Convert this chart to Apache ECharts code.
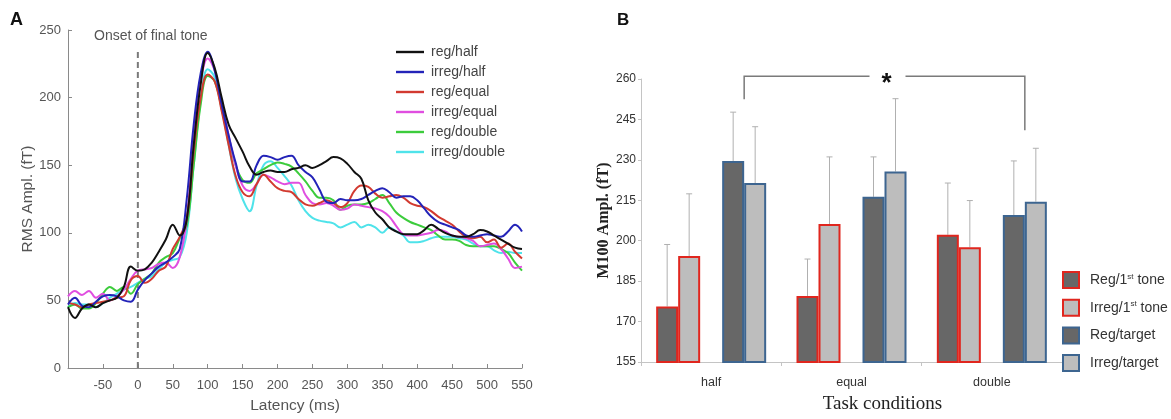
<!DOCTYPE html>
<html>
<head>
<meta charset="utf-8">
<script src="https://cdn.jsdelivr.net/npm/echarts@6/dist/echarts.min.js"></script>
<style>html,body{margin:0;padding:0;background:#fff;}#c{width:1171px;height:419px;}</style>
</head>
<body>
<div id="c"></div>
<script>
// ---------- Panel A data ----------
const latency = [-100,-90,-80,-70,-60,-50,-40,-30,-20,-10,0,10,20,30,40,50,60,70,80,90,100,110,120,130,140,150,160,170,180,190,200,210,220,230,240,250,260,270,280,290,300,310,320,330,340,350,360,370,380,390,400,410,420,430,440,450,460,470,480,490,500,510,520,530,540,550];
const regHalf = [45,37,44,47,45,48,50,52,60,75,72,73,78,86,95,106,98,110,165,210,233,222,200,180,170,160,149,143,145,146,145,145,147,148,150,148,150,153,156,155,151,145,140,124,115,110,104,101,99,99,99,102,106,103,100,98,97,97,99,102,101,98,95,92,89,88];
const irregHalf = [47,52,46,45,49,53,54,53,50,49,58,65,70,75,78,82,88,125,180,218,234,220,195,172,152,138,138,150,157,156,154,156,157,150,145,141,132,123,122,125,124,124,125,128,131,133,130,126,127,127,124,118,112,108,106,104,102,98,97,98,99,98,97,101,106,101];
const regEqual = [48,47,45,47,48,49,50,52,53,65,68,63,66,72,75,88,97,110,160,200,217,212,190,165,142,130,127,136,143,138,133,131,130,125,121,120,122,124,122,119,122,131,135,134,129,126,127,128,126,122,120,119,116,112,109,106,101,97,96,97,93,95,89,92,86,81];
const irregEqual = [53,57,54,57,52,55,50,53,58,66,72,73,74,77,78,74,82,110,170,212,229,220,197,172,150,135,131,136,143,141,138,136,137,137,128,122,121,122,120,117,118,121,120,119,118,116,112,105,99,98,98,99,100,102,101,98,97,96,94,90,91,92,88,81,74,75];
const regDouble = [45,47,44,44,48,55,60,57,60,55,62,66,70,78,82,85,96,105,150,195,216,212,192,170,150,139,137,144,147,150,152,151,149,144,138,131,126,126,124,117,120,121,121,122,125,128,122,115,111,108,106,104,102,98,95,95,94,91,90,90,90,90,88,85,78,72];
const irregDouble = [45,48,47,47,45,48,52,55,58,60,63,66,68,73,78,80,82,100,150,198,221,215,192,165,140,125,116,135,150,153,148,142,135,124,116,111,109,108,107,104,106,108,104,106,104,100,104,101,98,93,93,94,96,97,97,97,96,95,92,90,90,87,85,86,85,85];
const onsetLine = [[0,0],[0,235]];
const seriesNamesA = ['reg/half','irreg/half','reg/equal','irreg/equal','reg/double','irreg/double'];
const seriesColorsA = ['#111111','#2323b8','#d23a30','#e04ee0','#3ccc3c','#4fe3ea'];

// ---------- Panel B data ----------
const conditions = ['half','equal','double'];
const reg1st    = [175.6,179.5,202.2];
const irreg1st  = [194.3,206.2,197.6];
const regTarget = [229.6,216.3,209.5];
const irregTarget = [221.4,225.7,214.5];
const reg1stErr    = [198.6,193.2,221.4];
const irreg1stErr  = [217.4,231.1,214.9];
const regTargetErr = [247.7,231.1,229.6];
const irregTargetErr = [242.3,252.7,234.3];
const barNamesB = ['Reg/1st tone','Irreg/1st tone','Reg/target','Irreg/target'];
const bracketTop = 261, bracketLeftEnd = 252.5, bracketRightEnd = 241;

const chart = echarts.init(document.getElementById('c'), null, {renderer:'canvas'});
const dataA = [regHalf, irregHalf, regEqual, irregEqual, regDouble, irregDouble];
const lineSeries = dataA.map((arr, i) => ({
  name: seriesNamesA[i], type: 'line', xAxisIndex: 0, yAxisIndex: 0,
  data: latency.map((t, k) => [t, arr[k]]),
  smooth: 0.4, symbol: 'none', lineStyle: {width: 2, color: seriesColorsA[i]},
  itemStyle: {color: seriesColorsA[i]}, z: 3 + (dataA.length - i)
}));

const barVals = [reg1st, irreg1st, regTarget, irregTarget];
const barErrs = [reg1stErr, irreg1stErr, regTargetErr, irregTargetErr];
const fills = ['#676767','#bdbdbd','#676767','#bdbdbd'];
const borders = ['#e0261e','#e0261e','#3d6590','#3d6590'];
const BW = 22;
const slotOffsets = [-2, -1, 1, 2]; // slot index relative to centre (spacer in middle)

const barSeries = [];
barVals.forEach((vals, i) => {
  if (i === 2) {
    barSeries.push({name: 'spacer', type: 'bar', xAxisIndex: 1, yAxisIndex: 1, data: conditions.map(() => null), barWidth: BW, barGap: '0%', silent: true});
  }
  barSeries.push({
    name: barNamesB[i], type: 'bar', xAxisIndex: 1, yAxisIndex: 1, data: vals,
    barWidth: BW, barGap: '0%',
    itemStyle: {color: fills[i], borderColor: borders[i], borderWidth: 2}
  });
});

const errData = [];
barErrs.forEach((errs, s) => errs.forEach((e, c) => errData.push([c, e, barVals[s][c], s])));

const errSeries = {
  type: 'custom', xAxisIndex: 1, yAxisIndex: 1, data: errData, z: 1, silent: true,
  renderItem: function (params, api) {
    const c = api.value(0), top = api.value(1), base = api.value(2), s = api.value(3);
    const p1 = api.coord([c, top]);
    const p0 = api.coord([c, base]);
    const x = p1[0] + slotOffsets[s] * BW;
    return {type: 'group', children: [
      {type: 'line', shape: {x1: x, y1: p0[1], x2: x, y2: p1[1]}, style: {stroke: '#b0b0b0', lineWidth: 1}},
      {type: 'line', shape: {x1: x - 3, y1: p1[1], x2: x + 3, y2: p1[1]}, style: {stroke: '#b0b0b0', lineWidth: 1}}
    ]};
  }
};

const bracketSeries = {
  type: 'custom', xAxisIndex: 1, yAxisIndex: 1, data: [[0]], silent: true, z: 5,
  renderItem: function (params, api) {
    const xl = api.coord([0, bracketTop])[0] + 1.5 * BW;
    const xr = api.coord([2, bracketTop])[0] + 1.5 * BW;
    const yt = api.coord([0, bracketTop])[1];
    const yl = api.coord([0, bracketLeftEnd])[1];
    const yr = api.coord([2, bracketRightEnd])[1];
    const xm = (xl + xr) / 2;
    const st = {stroke: '#7a7a7a', lineWidth: 1.5};
    return {type: 'group', children: [
      {type: 'polyline', shape: {points: [[xl, yl], [xl, yt], [xm - 15, yt]]}, style: Object.assign({fill: null}, st)},
      {type: 'polyline', shape: {points: [[xm + 21, yt], [xr, yt], [xr, yr]]}, style: Object.assign({fill: null}, st)},
      {type: 'text', x: xm + 2, y: yt + 8, style: {text: '*', fill: '#111', font: 'bold 26px "Liberation Sans", Arial', align: 'center', verticalAlign: 'middle'}}
    ]};
  }
};

const onsetSeries = {
  name: 'onset', type: 'line', xAxisIndex: 0, yAxisIndex: 0, data: onsetLine,
  symbol: 'none', lineStyle: {color: '#7a7a7a', width: 2, type: [6, 4]}, z: 2, silent: true
};

const option = {
  animation: false,
  backgroundColor: '#fff',
  textStyle: {fontFamily: '"Liberation Sans", Arial, sans-serif'},
  grid: [
    {left: 68, top: 30, width: 454, height: 343},
    {left: 641, top: 79, width: 421, height: 291}
  ],
  xAxis: [
    {type: 'value', gridIndex: 0, min: -100, max: 550, interval: 50,
     name: 'Latency (ms)', nameLocation: 'middle', nameGap: 30,
     nameTextStyle: {color: '#555', fontSize: 15.5},
     axisLine: {onZero: false, lineStyle: {color: '#8a8a8a'}},
     axisTick: {inside: true, length: 4, lineStyle: {color: '#8a8a8a'}},
     axisLabel: {color: '#555', fontSize: 13, margin: 11, showMinLabel: false},
     splitLine: {show: false}},
    {type: 'category', gridIndex: 1, data: conditions,
     name: 'Task conditions', nameLocation: 'middle', nameGap: 33,
     nameTextStyle: {color: '#222', fontSize: 19, padding: [0, 0, 0, 62], fontFamily: '"Liberation Serif", "Times New Roman", serif'},
     axisLine: {onZero: false, lineStyle: {color: '#c4c4c4'}},
     axisTick: {show: true, length: 4, lineStyle: {color: '#c4c4c4'}},
     axisLabel: {color: '#333', fontSize: 12.5, margin: 14}}
  ],
  yAxis: [
    {type: 'value', gridIndex: 0, min: 0, max: 250, interval: 50,
     name: 'RMS Ampl. (fT)', nameLocation: 'middle', nameGap: 32, nameRotate: 90,
     nameTextStyle: {color: '#555', fontSize: 15.5},
     axisLine: {show: true, onZero: false, lineStyle: {color: '#8a8a8a'}},
     axisTick: {show: true, inside: true, length: 4, lineStyle: {color: '#8a8a8a'}},
     axisLabel: {color: '#555', fontSize: 13, margin: 7},
     splitLine: {show: false}},
    {type: 'value', gridIndex: 1, min: 155, max: 260, interval: 15,
     name: 'M100 Ampl. (fT)', nameLocation: 'middle', nameGap: 25, nameRotate: 90,
     nameTextStyle: {color: '#222', fontSize: 16, fontWeight: 'bold', fontFamily: '"Liberation Serif", "Times New Roman", serif'},
     axisLine: {show: true, onZero: false, lineStyle: {color: '#c4c4c4'}},
     axisTick: {show: true, length: 3, lineStyle: {color: '#c4c4c4'}},
     axisLabel: {color: '#333', fontSize: 12, margin: 5},
     splitLine: {show: false}}
  ],
  legend: [
    {data: seriesNamesA, orient: 'vertical', left: 391, top: 40,
     itemWidth: 28, itemHeight: 14, itemGap: 6, icon: 'path://M0,5.8 L28,5.8 L28,8.2 L0,8.2 Z',
     textStyle: {color: '#444', fontSize: 14, padding: [0, 0, 0, 2]}, selectedMode: false},
    {data: barNamesB, orient: 'vertical', left: 1057, top: 266,
     itemWidth: 16, itemHeight: 16, itemGap: 9.7, icon: 'rect', selectedMode: false,
     formatter: function (n) { return n.replace('1st', '1{sup|st}'); },
     textStyle: {color: '#333', fontSize: 14, padding: [0, 0, 0, 6], rich: {sup: {fontSize: 8, color: '#333', padding: [0, 0, 7, 0]}}}}
  ],
  graphic: [
    {type: 'text', left: 10, top: 11, style: {text: 'A', font: 'bold 18px "Liberation Sans", Arial', fill: '#111'}},
    {type: 'text', left: 617, top: 12, style: {text: 'B', font: 'bold 17px "Liberation Sans", Arial', fill: '#111'}},
    {type: 'text', left: 94, top: 29, style: {text: 'Onset of final tone', font: '14px "Liberation Sans", Arial', fill: '#555'}}
  ],
  series: [onsetSeries].concat(lineSeries, barSeries, [errSeries, bracketSeries])
};
chart.setOption(option);
</script>
</body>
</html>
